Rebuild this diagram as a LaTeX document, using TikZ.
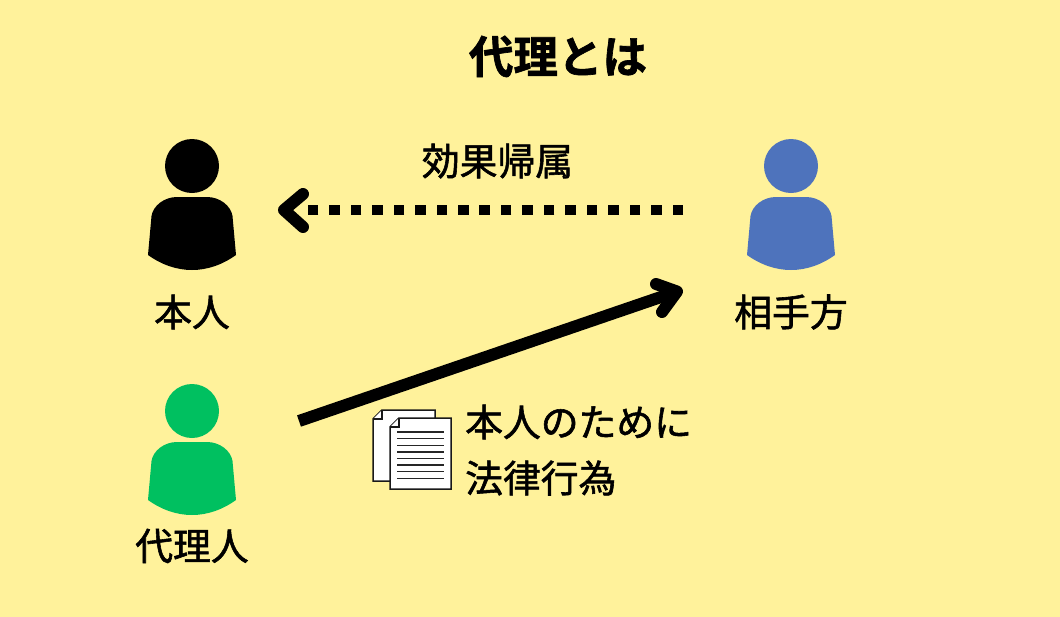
\documentclass[tikz,border=0pt]{standalone}
\usepackage{fontspec}
\usetikzlibrary{arrows.meta}
\setmainfont{Noto Sans CJK JP}
\newfontfamily\jpfont[FakeBold=1.5]{Noto Sans CJK JP}
\newfontfamily\jpbold[BoldFont=*,FakeBold=1.5]{Noto Sans CJK JP Bold}
\definecolor{bgy}{HTML}{FFF29B}
\definecolor{pblue}{HTML}{4E73BC}
\definecolor{pgreen}{HTML}{00C060}
\tikzset{
  x=1pt,y=-1pt,
  person/.pic={
    \fill[pic actions] (0,0) circle[radius=27];
    \fill[pic actions] (-44,89)
      .. controls (-30,99) and (-15,104) .. (0,104)
      .. controls (15,104) and (30,99) .. (44,89)
      -- (40.5,50)
      .. controls (39,40) and (28,31) .. (15,31)
      -- (-15,31)
      .. controls (-28,31) and (-39,40) .. (-40.5,50)
      -- cycle;
  },
  lab/.style={font=\fontsize{37.8}{40}\selectfont\jpfont,text=black,inner sep=0pt},
  ttl/.style={font=\fontsize{44.5}{48}\selectfont\jpbold,text=black,inner sep=0pt},
  dashline/.style={line width=10.5,dash pattern=on 10.5 off 10.95},
  barbhead/.style={line width=12,line cap=round,line join=round},
  sheet/.style={draw=black!90,line width=1.5,fill=white,line join=miter},
  txtline/.style={draw=black!85,line width=1.4},
}
\begin{document}
\begin{tikzpicture}
\useasboundingbox (0,0) rectangle (1060,616);
\fill[bgy] (-5,-5) rectangle (1065,621);
\node[ttl] (title) at (558,56.5) {代理とは};
\pic[fill=black] at (192,166) {person};
\pic[fill=pblue] at (791,166) {person};
\pic[fill=pgreen] at (192,411) {person};
\node[lab] (honnin) at (192,312) {本人};
\node[lab] (aite) at (791,312) {相手方};
\node[lab] (dairi) at (192,546) {代理人};
\node[lab] (kouka) at (497.5,161) {効果帰属};
\node[lab,anchor=west] (tame) at (465,422) {本人のために};
\node[lab,anchor=west] (houritsu) at (465,478) {法律行為};
% dotted effect arrow
\coordinate (dStart) at (683,210);
\coordinate (dEnd) at (308,210);
\coordinate (dTip) at (284,210);
\coordinate (dA) at (303,194);
\coordinate (dB) at (303,227);
\draw[dashline] (dStart) -- (dEnd);
\draw[barbhead] (dA) -- (dTip) -- (dB);
% solid act arrow
\coordinate (sStart) at (299,421);
\coordinate (sEnd) at (677,291.5);
\coordinate (sA) at (656,284);
\coordinate (sB) at (662,312);
\draw[line width=12] (sStart) -- (sEnd);
\draw[barbhead] (sA) -- (sEnd) -- (sB);
% documents
\draw[sheet] (382,410) -- (435,410) -- (435,481) -- (373,481) -- (373,419) -- cycle;
\draw[sheet] (373,419) -- (382,419) -- (382,410);
\draw[sheet] (399,418) -- (451,418) -- (451,489) -- (390,489) -- (390,427) -- cycle;
\draw[sheet] (390,427) -- (399,427) -- (399,418);
\foreach \yy in {432,438.6,445.2,451.8,458.4,465,471.6,478.2}
  \draw[txtline] (397,\yy) -- (444,\yy);
\end{tikzpicture}
\end{document}
